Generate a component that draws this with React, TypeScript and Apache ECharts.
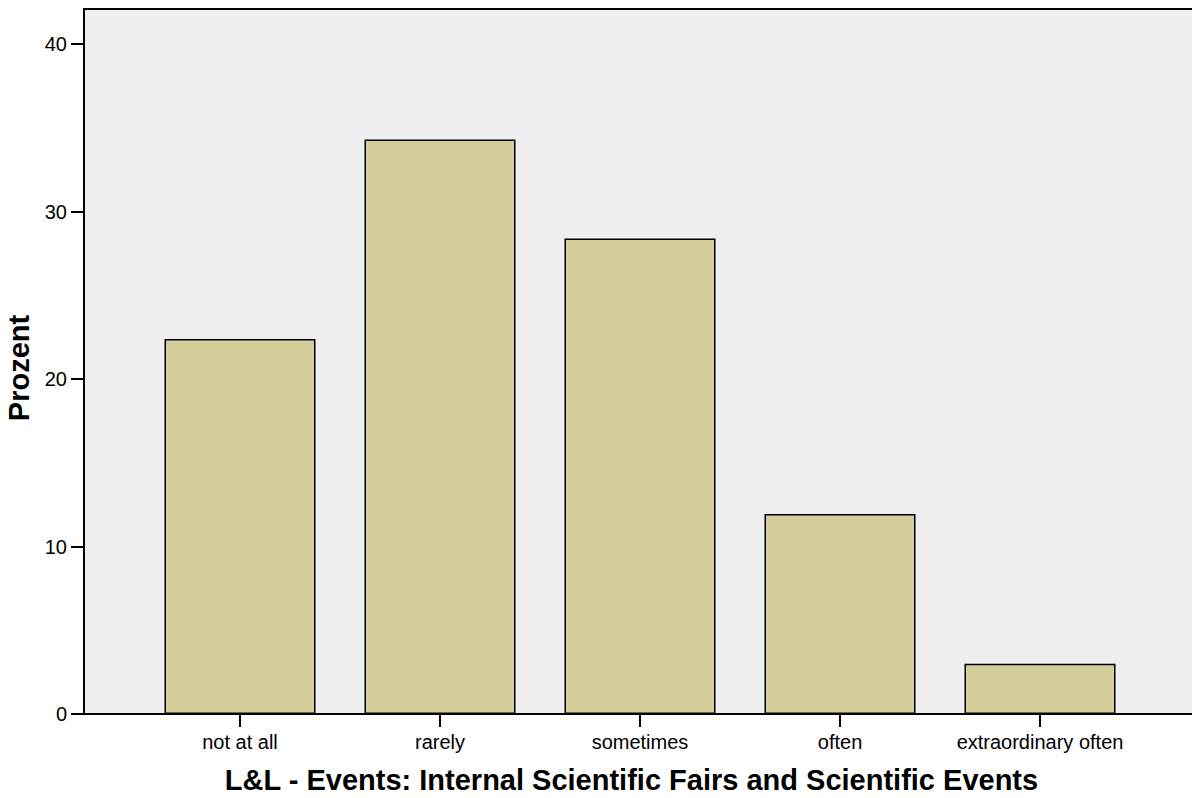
import React, { useEffect, useRef } from "react";
import * as echarts from "echarts";

const categories = ["not at all", "rarely", "sometimes", "often", "extraordinary often"];
const percents = [22.4, 34.3, 28.4, 11.95, 3.0];
const yTicks = [0, 10, 20, 30, 40];
const xTitle = "L&L - Events: Internal Scientific Fairs and Scientific Events";
const yTitle = "Prozent";

const FONT = "'Liberation Sans', Arial, sans-serif";

export default function App() {
  const ref = useRef<HTMLDivElement>(null);
  useEffect(() => {
    document.body.style.margin = "0";
    const chart = echarts.init(ref.current!, null, { renderer: "svg" });
    chart.setOption({
      animation: false,
      grid: {
        left: 84,
        top: 9,
        right: 0,
        bottom: 84,
        outerBoundsMode: "none",
        containLabel: false,
        show: true,
        backgroundColor: "#efefef",
        borderColor: "#000",
        borderWidth: 2,
      },
      xAxis: {
        type: "value",
        min: -0.78,
        max: 4.78,
        name: xTitle,
        nameLocation: "middle",
        nameGap: 51,
        nameTextStyle: {
          fontFamily: FONT,
          fontSize: 29,
          fontWeight: "bold",
          color: "#000",
          padding: [0, 17, 0, 0],
        },
        axisLine: { show: true, onZero: false, lineStyle: { color: "#000", width: 2 } },
        axisTick: { show: true, length: 13, customValues: [0, 1, 2, 3, 4], lineStyle: { color: "#000", width: 2 } },
        axisLabel: {
          customValues: [0, 1, 2, 3, 4],
          formatter: (v: number) => categories[Math.round(v)] ?? "",
          fontFamily: FONT,
          fontSize: 20,
          color: "#000",
          margin: 18,
        },
        splitLine: { show: false },
      },
      yAxis: {
        type: "value",
        min: 0,
        max: 42.1,
        name: yTitle,
        nameLocation: "middle",
        nameRotate: 90,
        nameGap: 47,
        nameTextStyle: {
          fontFamily: FONT,
          fontSize: 29,
          fontWeight: "bold",
          color: "#000",
          padding: [0, 13, 0, 0],
        },
        axisLine: { show: true, onZero: false, lineStyle: { color: "#000", width: 2 } },
        axisTick: { show: true, length: 13, customValues: yTicks, lineStyle: { color: "#000", width: 2 } },
        axisLabel: {
          customValues: yTicks,
          fontFamily: FONT,
          fontSize: 20,
          color: "#000",
          margin: 17,
        },
        splitLine: { show: false },
      },
      series: [
        {
          type: "bar",
          data: percents.map((v, i) => [i, v]),
          barWidth: 151,
          itemStyle: { color: "#d3ce99", borderColor: "#000", borderWidth: 1.5 },
        },
      ],
    });
    return () => chart.dispose();
  }, []);
  return (
    <div style={{ width: 1192, height: 798, overflow: "hidden" }}>
      <div ref={ref} style={{ width: 1196, height: 798 }} />
    </div>
  );
}
